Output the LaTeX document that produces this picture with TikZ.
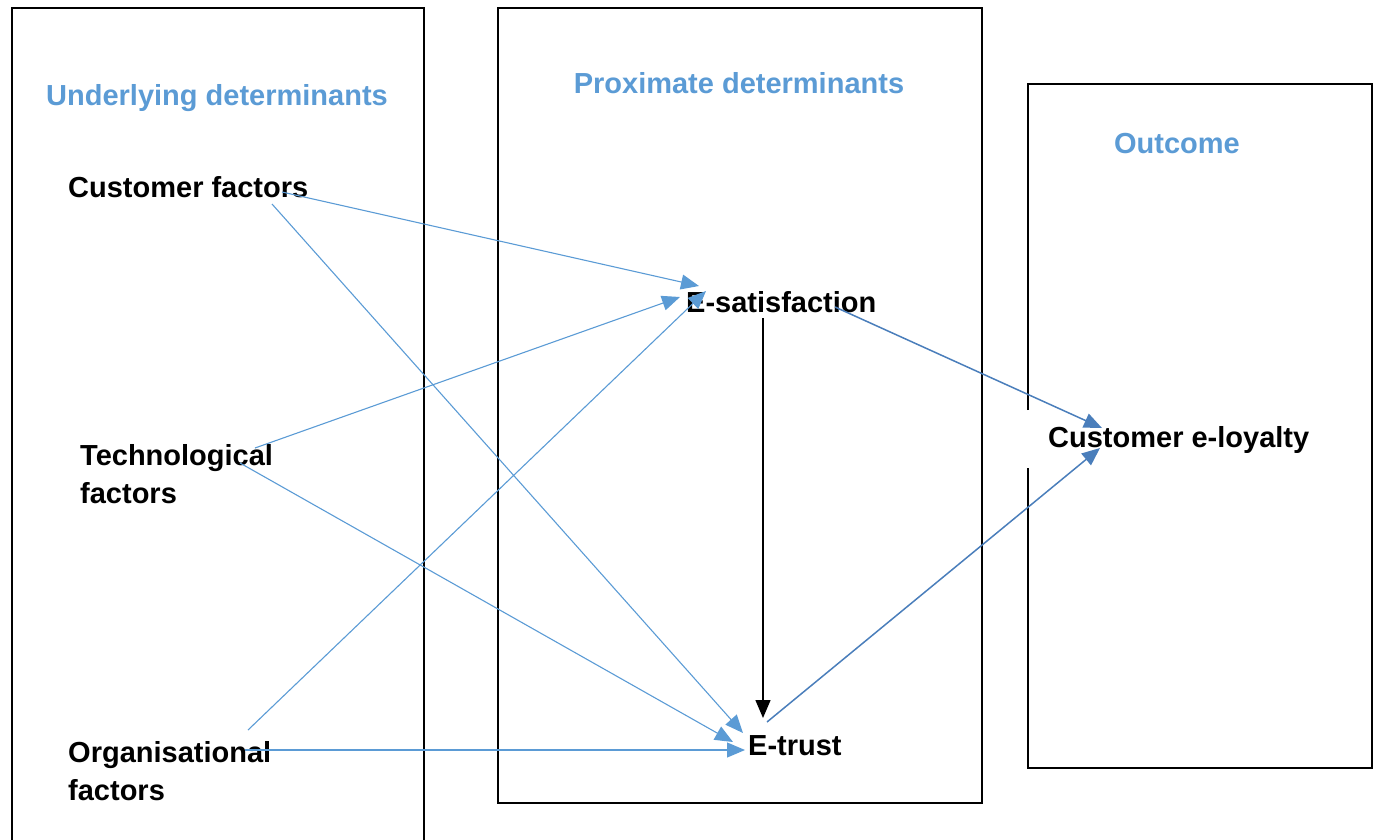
\documentclass[tikz,border=0pt]{standalone}
\usepackage{fontspec}
\setmainfont{Liberation Sans}
\usetikzlibrary{arrows.meta}
\definecolor{hblue}{HTML}{5B9BD5}
\definecolor{lblue}{HTML}{5B9BD5}
\definecolor{dblue}{HTML}{4A7EBB}
\tikzset{
  panel/.style={draw=black, line width=2.8pt},
  head/.style={text=hblue, font=\fontsize{29}{38}\selectfont\bfseries, inner sep=0pt, anchor=base},
  lab/.style={font=\fontsize{29}{38}\selectfont\bfseries, inner sep=0pt, anchor=base west, align=left},
  link/.style={draw=lblue, line width=1.1pt, -{Triangle[length=18pt,width=15pt]}},
  dlink/.style={draw=dblue, line width=1.5pt, -{Triangle[length=18pt,width=15pt]}},
  blink/.style={draw=black, line width=1.5pt, -{Triangle[length=18pt,width=15pt]}}
}
\begin{document}
\begin{tikzpicture}[x=1pt,y=-1pt]
\useasboundingbox (0,0) rectangle (1377,839);
% panels
\draw[panel] (12,845) -- (12,8) -- (424,8) -- (424,845);
\draw[panel] (498,8) rectangle (982,803);
\draw[panel] (1028,410) -- (1028,84) -- (1372,84) -- (1372,768) -- (1028,768) -- (1028,468);
% headings
\node[head] (h1) at (217,105) {Underlying determinants};
\node[head] (h2) at (739,93) {Proximate determinants};
\node[head] (h3) at (1177,153) {Outcome};
% labels
\node[lab] (cf) at (68,197) {Customer factors};
\node[lab] (tf) at (80,503) {Technological\\factors};
\node[lab] (of) at (68,800) {Organisational\\factors};
\node[lab] (es) at (686,312) {E-satisfaction};
\node[lab] (et) at (748,755) {E-trust};
\node[lab] (el) at (1048,447) {Customer e-loyalty};
% connector end points
\coordinate (cfa) at (282,192);
\coordinate (cfb) at (272,204);
\coordinate (tfa) at (255,448);
\coordinate (tfb) at (240,463);
\coordinate (ofa) at (248,730);
\coordinate (ofb) at (245,750);
\coordinate (esin1) at (699,286);
\coordinate (esin2) at (680,297);
\coordinate (esin3) at (706,291);
\coordinate (esout) at (835,307);
\coordinate (esdown) at (763,318);
\coordinate (etin1) at (743,733);
\coordinate (etin2) at (733,742);
\coordinate (etin3) at (745,750);
\coordinate (etin4) at (763,718);
\coordinate (etout) at (767,722);
\coordinate (elin1) at (1102,428);
\coordinate (elin2) at (1100,448);
% connectors
\draw[link] (cfa) -- (esin1);
\draw[link] (cfb) -- (etin1);
\draw[link] (tfa) -- (esin2);
\draw[link] (tfb) -- (etin2);
\draw[link] (ofa) -- (esin3);
\draw[link] (ofb) -- (etin3);
\draw[blink] (esdown) -- (etin4);
\draw[dlink] (esout) -- (elin1);
\draw[dlink] (etout) -- (elin2);
\end{tikzpicture}
\end{document}
